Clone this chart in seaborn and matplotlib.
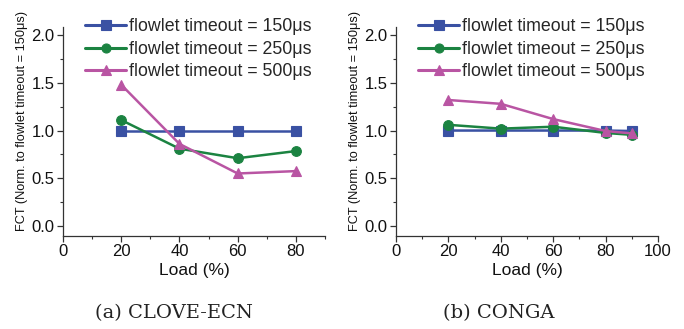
import matplotlib
matplotlib.use("Agg")
import matplotlib.pyplot as plt
import seaborn as sns
import pandas as pd
from matplotlib.ticker import MultipleLocator

# ---- data ----
series_labels = ["flowlet timeout = 150\u03bcs", "flowlet timeout = 250\u03bcs", "flowlet timeout = 500\u03bcs"]

clove_load = [20, 40, 60, 80]
clove_150 = [1.00, 1.00, 1.00, 1.00]
clove_250 = [1.11, 0.81, 0.71, 0.785]
clove_500 = [1.48, 0.86, 0.55, 0.575]

conga_load = [20, 40, 60, 80, 90]
conga_150 = [1.00, 1.00, 1.00, 1.00, 0.995]
conga_250 = [1.06, 1.02, 1.04, 0.975, 0.955]
conga_500 = [1.32, 1.28, 1.12, 0.995, 0.97]

captions = ["(a) CLOVE-ECN", "(b) CONGA"]
ylabel = "FCT (Norm. to flowlet timeout = 150\u03bcs)"
xlabel = "Load (%)"

colors = ["#3a51a3", "#1b8341", "#b955a3"]
markers = ["s", "o", "^"]


def long_df(load, vals):
    rows = []
    for lab, v in zip(series_labels, vals):
        for x, y in zip(load, v):
            rows.append({"load": x, "fct": y, "series": lab})
    return pd.DataFrame(rows)


sns.set_theme(style="ticks")
plt.rcParams["font.family"] = ["Liberation Sans", "DejaVu Sans"]

W, H = 684, 329
fig = plt.figure(figsize=(W / 100, H / 100), dpi=100)

panels = [
    (long_df(clove_load, [clove_150, clove_250, clove_500]), 63, 325, (0, 90), [0, 20, 40, 60, 80], 174),
    (long_df(conga_load, [conga_150, conga_250, conga_500]), 396, 658, (0, 100), [0, 20, 40, 60, 80, 100], 499),
]

for i, (df, xl, xr, xlim, xt, capx) in enumerate(panels):
    top, bot = 27, 236
    ax = fig.add_axes([xl / W, (H - bot) / H, (xr - xl) / W, (bot - top) / H])
    sns.lineplot(data=df, x="load", y="fct", hue="series", style="series",
                 markers=markers, dashes=False, palette=colors, ax=ax,
                 linewidth=1.8, markersize=7, markeredgewidth=0.8)
    for line in ax.lines:
        line.set_markeredgecolor(line.get_color())
    ax.set_xlim(*xlim)
    ax.set_ylim(-0.105, 2.085)
    ax.set_xticks(xt)
    ax.xaxis.set_minor_locator(MultipleLocator(10))
    ax.set_yticks([0.0, 0.5, 1.0, 1.5, 2.0])
    ax.set_yticklabels(["0.0", "0.5", "1.0", "1.5", "2.0"])
    ax.yaxis.set_minor_locator(MultipleLocator(0.25))
    ax.tick_params(axis="both", which="major", labelsize=12, length=4, width=0.9,
                   color="#333333", labelcolor="#111111", pad=2)
    ax.tick_params(axis="both", which="minor", length=2.5, width=0.8, color="#333333")
    for s in ["top", "right"]:
        ax.spines[s].set_visible(False)
    for s in ["left", "bottom"]:
        ax.spines[s].set_color("#333333")
        ax.spines[s].set_linewidth(0.9)
    ax.set_xlabel(xlabel, fontsize=12.5, labelpad=3, color="#111111")
    ax.set_ylabel(ylabel, fontsize=9.2, color="#111111")
    ax.yaxis.set_label_coords(-0.135, 0.55)
    leg = ax.legend(loc="upper left", bbox_to_anchor=(15 / (xr - xl), 1.075), frameon=False,
                    fontsize=12.8, handlelength=2.3, handletextpad=0.15, labelspacing=0.3,
                    borderaxespad=0.0)
    for h in leg.legend_handles:
        h.set_linewidth(2.2)
        h.set_markersize(6.5)
    fig.text(capx / W, 1 - 313 / H, captions[i], ha="center", va="center",
             fontsize=14, family=["DejaVu Serif"], color="#222222")

fig.savefig("out.png", dpi=100)
